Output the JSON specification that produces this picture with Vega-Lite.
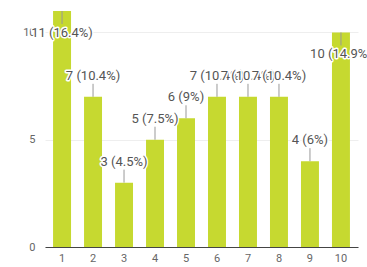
{
  "$schema": "https://vega.github.io/schema/vega-lite/v6.json",
  "width": 313,
  "height": 236,
  "autosize": "none",
  "padding": {"left": 45, "top": 11, "right": 9, "bottom": 20},
  "background": "white",
  "config": {
    "view": {"stroke": null},
    "font": "Roboto"
  },
  "data": {
    "values": [
      {"k": "1", "v": 11, "label": "11 (16.4%)"},
      {"k": "2", "v": 7, "label": "7 (10.4%)"},
      {"k": "3", "v": 3, "label": "3 (4.5%)"},
      {"k": "4", "v": 5, "label": "5 (7.5%)"},
      {"k": "5", "v": 6, "label": "6 (9%)"},
      {"k": "6", "v": 7, "label": "7 (10.4%)"},
      {"k": "7", "v": 7, "label": "7 (10.4%)"},
      {"k": "8", "v": 7, "label": "7 (10.4%)"},
      {"k": "9", "v": 4, "label": "4 (6%)"},
      {"k": "10", "v": 10, "label": "10 (14.9%)"}
    ]
  },
  "encoding": {
    "x": {
      "field": "k", "type": "ordinal", "sort": null,
      "scale": {"paddingInner": 0.42, "paddingOuter": 0.26},
      "axis": {"title": null, "labelAngle": 0, "ticks": false, "domainColor": "#444", "labelColor": "#666", "labelFontSize": 11, "labelPadding": 5}
    },
    "y": {
      "field": "v", "type": "quantitative",
      "scale": {"domain": [0, 11], "nice": false},
      "axis": {"title": null, "values": [0, 5, 10], "ticks": false, "domain": false, "gridColor": "#eeeeee", "labelColor": "#666", "labelFontSize": 11, "labelPadding": 10}
    }
  },
  "layer": [
    {"mark": {"type": "bar", "color": "#c6d930"}},
    {
      "transform": [{"filter": "datum.v < 10"}],
      "mark": {"type": "rule", "color": "#999", "y2Offset": -13},
      "encoding": {"y2": {"field": "v"}}
    },
    {
      "transform": [{"filter": "datum.v >= 10"}],
      "mark": {"type": "rule", "color": "#999", "y2Offset": 13},
      "encoding": {"y2": {"field": "v"}}
    },
    {
      "transform": [{"filter": "datum.v < 10 && datum.k != '6' && datum.k != '7' && datum.k != '8'"}],
      "mark": {"type": "text", "yOffset": -21, "baseline": "middle", "fontSize": 13, "color": "white", "stroke": "white", "strokeWidth": 3, "strokeJoin": "round"},
      "encoding": {"text": {"field": "label"}}
    },
    {
      "transform": [{"filter": "datum.v < 10 && datum.k != '6' && datum.k != '7' && datum.k != '8'"}],
      "mark": {"type": "text", "yOffset": -21, "baseline": "middle", "fontSize": 13, "color": "#555"},
      "encoding": {"text": {"field": "label"}}
    },
    {
      "transform": [{"filter": "datum.v >= 10"}],
      "mark": {"type": "text", "yOffset": 22, "baseline": "middle", "fontSize": 13, "color": "white", "stroke": "white", "strokeWidth": 3, "strokeJoin": "round"},
      "encoding": {"text": {"field": "label"}}
    },
    {
      "transform": [{"filter": "datum.v >= 10"}],
      "mark": {"type": "text", "yOffset": 22, "baseline": "middle", "fontSize": 13, "color": "#555"},
      "encoding": {"text": {"field": "label"}}
    },
    {
      "transform": [{"filter": "datum.k == '6'"}],
      "mark": {"type": "text", "yOffset": -21, "baseline": "middle", "fontSize": 13, "color": "white", "stroke": "white", "strokeWidth": 3, "strokeJoin": "round"},
      "encoding": {"text": {"field": "label"}}
    },
    {
      "transform": [{"filter": "datum.k == '6'"}],
      "mark": {"type": "text", "yOffset": -21, "baseline": "middle", "fontSize": 13, "color": "#555"},
      "encoding": {"text": {"field": "label"}}
    },
    {
      "transform": [{"filter": "datum.k == '7'"}],
      "mark": {"type": "text", "yOffset": -21, "baseline": "middle", "fontSize": 13, "color": "white", "stroke": "white", "strokeWidth": 3, "strokeJoin": "round"},
      "encoding": {"text": {"field": "label"}}
    },
    {
      "transform": [{"filter": "datum.k == '7'"}],
      "mark": {"type": "text", "yOffset": -21, "baseline": "middle", "fontSize": 13, "color": "#555"},
      "encoding": {"text": {"field": "label"}}
    },
    {
      "transform": [{"filter": "datum.k == '8'"}],
      "mark": {"type": "text", "yOffset": -21, "baseline": "middle", "fontSize": 13, "color": "white", "stroke": "white", "strokeWidth": 3, "strokeJoin": "round"},
      "encoding": {"text": {"field": "label"}}
    },
    {
      "transform": [{"filter": "datum.k == '8'"}],
      "mark": {"type": "text", "yOffset": -21, "baseline": "middle", "fontSize": 13, "color": "#555"},
      "encoding": {"text": {"field": "label"}}
    }
  ]
}
